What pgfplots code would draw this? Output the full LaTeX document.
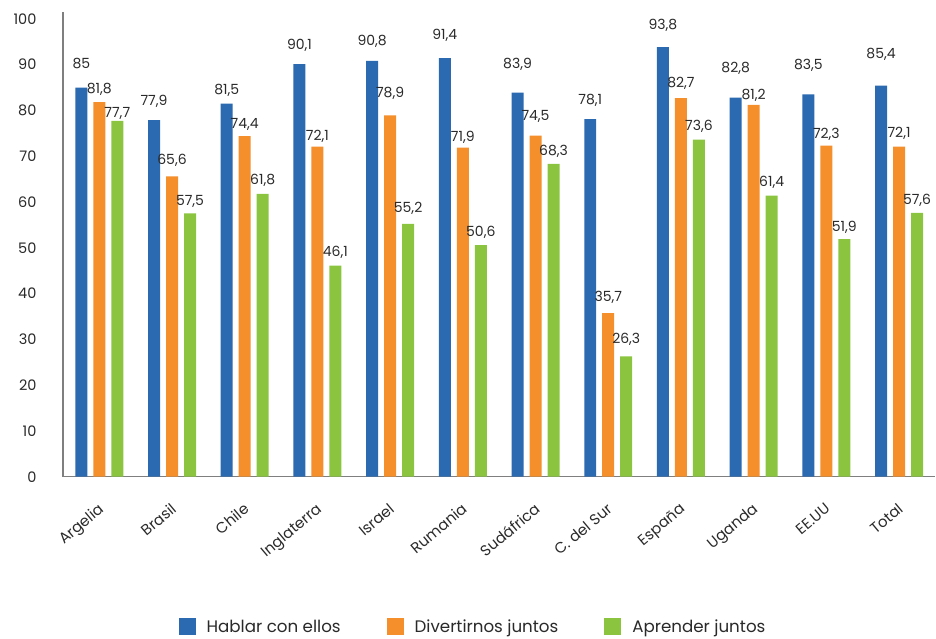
\documentclass[border=0pt]{standalone}
\usepackage{pgfplots}
\pgfplotsset{compat=1.18}
\usepackage{fontspec}
\setmainfont{Poppins}
\definecolor{cblue}{HTML}{2B69B0}
\definecolor{corange}{HTML}{F58F2C}
\definecolor{cgreen}{HTML}{8BC53F}
\definecolor{taxis}{HTML}{7F7F7F}
\definecolor{ttext}{HTML}{2A2A2A}
\begin{document}
\begin{tikzpicture}
\begin{axis}[
  scale only axis,
  width=873pt, height=465pt,
  xmin=-0.5, xmax=11.5,
  ymin=0, ymax=101.5,
  axis x line*=bottom, axis y line*=left,
  axis line style={taxis, line width=1.2pt},
  ytick={0,10,...,100},
  xtick={0,...,11},
  xticklabels={Argelia,Brasil,Chile,Inglaterra,Israel,Rumania,Sudáfrica,C. del Sur,España,Uganda,EE.UU,Total},
  major tick length=0pt,
  /pgf/number format/.cd, use comma, fixed, precision=1, assume math mode=true, 1000 sep={},
  /pgfplots/.cd,
  yticklabel style={font=\fontsize{14.5}{16}\selectfont, text=ttext, xshift=-23pt},
  xticklabel style={font=\fontsize{15}{17}\selectfont, text=ttext, rotate=40, anchor=north east, xshift=-14.5pt, yshift=-14.6pt},
  ybar=6pt, bar width=12pt,
  nodes near coords,
  visualization depends on={\thisrow{off} \as \off},
  every node near coord/.append style={font=\fontsize{14}{16}\selectfont, text=ttext, anchor=center, yshift=\off},
  legend columns=3,
  legend style={at={(0.47,-0.3226)}, anchor=center, draw=none, font=\fontsize{16.7}{18}\selectfont, text=ttext,
    /tikz/every odd column/.append style={column sep=9pt},
    /tikz/every even column/.append style={column sep=44pt}},
  legend image code/.code={\fill[#1, draw=none] (0pt,-8.5pt) rectangle (17pt,8.5pt);},
]
\addplot[fill=cblue, draw=none] table[x=x, y=y] {
x y off
0 85 24
1 77.9 19
2 81.5 13
3 90.1 19
4 90.8 20
5 91.4 23
6 83.9 28
7 78.1 19
8 93.8 22
9 82.8 29
10 83.5 29
11 85.4 31
};
\addplot[fill=corange, draw=none] table[x=x, y=y] {
x y off
0 81.8 13
1 65.6 16
2 74.4 12
3 72.1 10
4 78.9 22
5 71.9 10
6 74.5 19
7 35.7 16
8 82.7 15
9 81.2 10
10 72.3 11
11 72.1 13
};
\addplot[fill=cgreen, draw=none] table[x=x, y=y] {
x y off
0 77.7 8
1 57.5 12
2 61.8 13
3 46.1 13
4 55.2 16
5 50.6 13
6 68.3 13
7 26.3 17
8 73.6 13
9 61.4 13
10 51.9 12
11 57.6 13
};
\legend{Hablar con ellos, Divertirnos juntos, Aprender juntos}
\end{axis}
\path (current axis.south west) ++(-63pt,-162pt);
\path (current axis.north east) ++(0pt,12pt);
\end{tikzpicture}
\end{document}
